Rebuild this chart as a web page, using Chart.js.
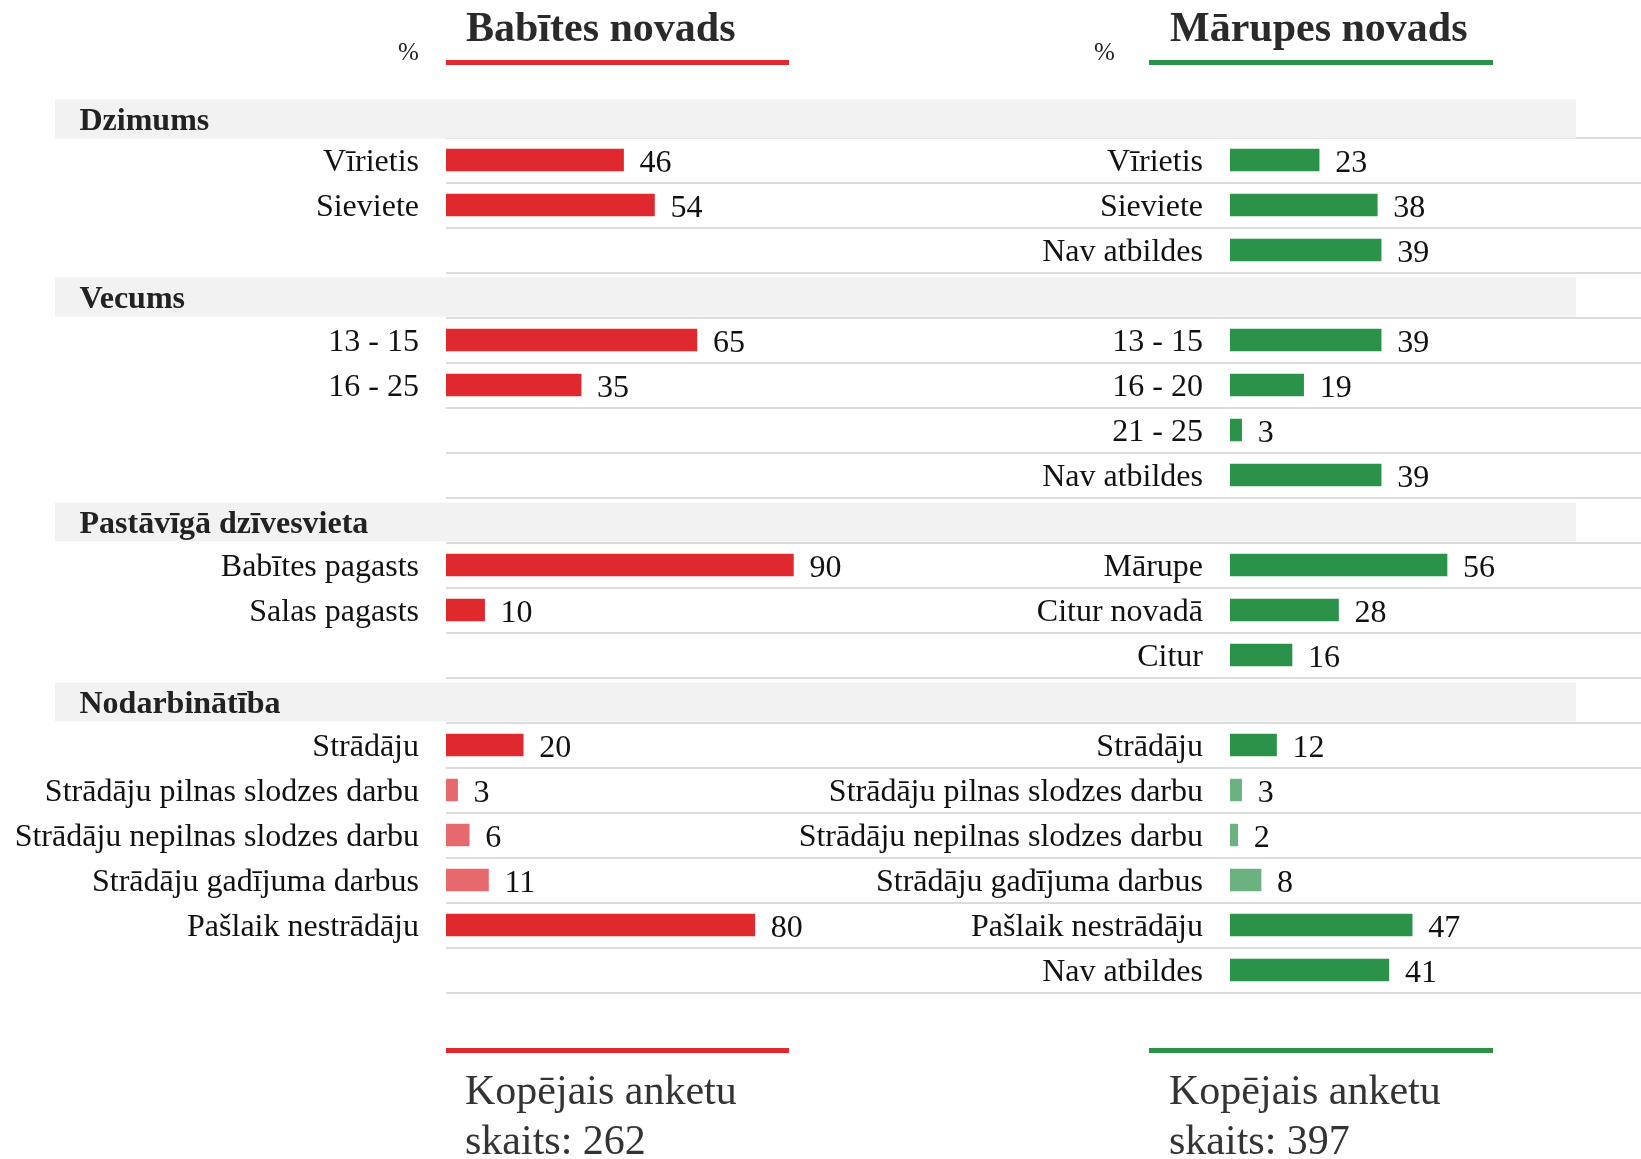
<!DOCTYPE html>
<html>
<head>
<meta charset="utf-8">
<script src="https://cdn.jsdelivr.net/npm/chart.js@4.4.1/dist/chart.umd.min.js"></script>
<style>
  html, body { margin: 0; padding: 0; background: #ffffff; }
  #wrap { position: relative; width: 1641px; height: 1159px; overflow: hidden; font-family: "Liberation Serif", "Times New Roman", serif; }
  canvas { position: absolute; top: 0; left: 0; }
  .title { position: absolute; top: 6px; font-size: 42px; line-height: 42px; font-weight: bold; color: #2a2a2a; white-space: nowrap; }
  .pct { position: absolute; top: 39px; font-size: 25px; line-height: 25px; color: #222; }
  .rule { position: absolute; height: 5px; }
  .total { position: absolute; top: 1065px; font-size: 42px; line-height: 50px; color: #333; white-space: nowrap; }
</style>
</head>
<body>
<div id="wrap">
  <canvas id="left" width="1641" height="1159"></canvas>
  <canvas id="right" width="1641" height="1159"></canvas>

  <div class="pct" style="left:398px">%</div>
  <div class="title" style="left:466px" id="tLeft"></div>
  <div class="rule" style="left:446px; top:60px; width:343px; background:#e0292f"></div>

  <div class="pct" style="left:1094px">%</div>
  <div class="title" style="left:1170px" id="tRight"></div>
  <div class="rule" style="left:1149px; top:60px; width:344px; background:#2a9249"></div>

  <div class="rule" style="left:446px; top:1048px; width:343px; background:#e0292f"></div>
  <div class="total" style="left:465px" id="totLeft"></div>
  <div class="rule" style="left:1149px; top:1048px; width:344px; background:#2a9249"></div>
  <div class="total" style="left:1169px" id="totRight"></div>
</div>
<script>
// ---------------- data ----------------
const panelTitles = ['Babītes novads', 'Mārupes novads'];
const totals = [262, 397];
const sectionTitles = ['Dzimums', 'Vecums', 'Pastāvīgā dzīvesvieta', 'Nodarbinātība'];

const babitesLabels = [
  'Dzimums', 'Vīrietis', 'Sieviete', '',
  'Vecums', '13 - 15', '16 - 25', '', '',
  'Pastāvīgā dzīvesvieta', 'Babītes pagasts', 'Salas pagasts', '',
  'Nodarbinātība', 'Strādāju', 'Strādāju pilnas slodzes darbu', 'Strādāju nepilnas slodzes darbu',
  'Strādāju gadījuma darbus', 'Pašlaik nestrādāju', ''
];
const babitesValues = [
  null, 46, 54, null,
  null, 65, 35, null, null,
  null, 90, 10, null,
  null, 20, 3, 6, 11, 80, null
];

const marupesLabels = [
  'Dzimums', 'Vīrietis', 'Sieviete', 'Nav atbildes',
  'Vecums', '13 - 15', '16 - 20', '21 - 25', 'Nav atbildes',
  'Pastāvīgā dzīvesvieta', 'Mārupe', 'Citur novadā', 'Citur',
  'Nodarbinātība', 'Strādāju', 'Strādāju pilnas slodzes darbu', 'Strādāju nepilnas slodzes darbu',
  'Strādāju gadījuma darbus', 'Pašlaik nestrādāju', 'Nav atbildes'
];
const marupesValues = [
  null, 23, 38, 39,
  null, 39, 19, 3, 39,
  null, 56, 28, 16,
  null, 12, 3, 2, 8, 47, 41
];

const subCategories = ['Strādāju pilnas slodzes darbu', 'Strādāju nepilnas slodzes darbu', 'Strādāju gadījuma darbus'];

// ---------------- text elements ----------------
document.getElementById('tLeft').textContent = panelTitles[0];
document.getElementById('tRight').textContent = panelTitles[1];
document.getElementById('totLeft').innerHTML = 'Kopējais anketu<br>skaits: ' + totals[0];
document.getElementById('totRight').innerHTML = 'Kopējais anketu<br>skaits: ' + totals[1];

// ---------------- plugins ----------------
const FONT = '"Liberation Serif", "Times New Roman", serif';

const rowDecor = {
  id: 'rowDecor',
  beforeDatasetsDraw(chart, args, opts) {
    if (!opts.decorate) return;
    const ctx = chart.ctx;
    const y = chart.scales.y;
    const labels = chart.data.labels;
    const step = y.getPixelForValue(1) - y.getPixelForValue(0);
    ctx.save();
    // row separators
    ctx.strokeStyle = '#dcdcdc';
    ctx.lineWidth = 2;
    for (let i = 0; i < labels.length; i++) {
      const py = Math.round(y.getPixelForValue(i) + step / 2);
      ctx.beginPath();
      ctx.moveTo(chart.chartArea.left, py);
      ctx.lineTo(chart.width, py);
      ctx.stroke();
    }
    // section bands with headers
    for (let i = 0; i < labels.length; i++) {
      if (!sectionTitles.includes(labels[i])) continue;
      const cy = y.getPixelForValue(i) + (i === 0 ? 4 : 2);
      ctx.fillStyle = '#f2f2f2';
      ctx.fillRect(opts.bandFrom, cy - 19.5, opts.bandTo - opts.bandFrom, 39);
      ctx.fillStyle = '#222';
      ctx.font = 'bold 32px ' + FONT;
      ctx.textAlign = 'left';
      ctx.textBaseline = 'middle';
      ctx.fillText(labels[i], 79.5, cy + 3);
    }
    ctx.restore();
  },
  afterDatasetsDraw(chart) {
    const ctx = chart.ctx;
    const meta = chart.getDatasetMeta(0);
    const vals = chart.data.datasets[0].data;
    ctx.save();
    ctx.fillStyle = '#111';
    ctx.font = '32px ' + FONT;
    ctx.textAlign = 'left';
    ctx.textBaseline = 'middle';
    meta.data.forEach((bar, i) => {
      if (vals[i] === null || vals[i] === undefined) return;
      ctx.fillText(String(vals[i]), bar.x + 16, bar.y + 4);
    });
    ctx.restore();
  }
};

function makeChart(id, labels, values, xMax, axisWidth, dark, light, decor) {
  return new Chart(document.getElementById(id), {
    type: 'bar',
    data: {
      labels: labels,
      datasets: [{
        data: values,
        backgroundColor: (c) => subCategories.includes(labels[c.dataIndex]) ? light : dark,
        borderWidth: 0,
        barThickness: 22
      }]
    },
    options: {
      indexAxis: 'y',
      responsive: false,
      animation: false,
      devicePixelRatio: 1,
      layout: { padding: { top: 92.5, bottom: 166.5, left: 0, right: 0 } },
      plugins: { legend: { display: false }, tooltip: { enabled: false }, rowDecor: decor },
      scales: {
        x: { type: 'linear', min: 0, max: xMax, display: false },
        y: {
          type: 'category',
          offset: true,
          grid: { display: false, drawTicks: false },
          border: { display: false },
          afterFit: (s) => { s.width = axisWidth; },
          ticks: {
            autoSkip: false,
            padding: 27,
            labelOffset: 3,
            color: '#111',
            font: { family: FONT, size: 32 },
            callback: function (v, i) {
              const l = labels[i];
              return sectionTitles.includes(l) ? '' : l;
            }
          }
        }
      }
    },
    plugins: [rowDecor]
  });
}

// left panel: 0% at x=446, ~3.86 px per %
makeChart('left', babitesLabels, babitesValues, (1641 - 446) / 3.86, 446, '#e0292f', '#e8696d',
  { decorate: true, bandFrom: 55, bandTo: 1576 });
// right panel: 0% at x=1230, ~3.875 px per %
makeChart('right', marupesLabels, marupesValues, (1641 - 1230) / 3.875, 1230, '#2a9249', '#6ab27f',
  { decorate: false });
</script>
</body>
</html>
